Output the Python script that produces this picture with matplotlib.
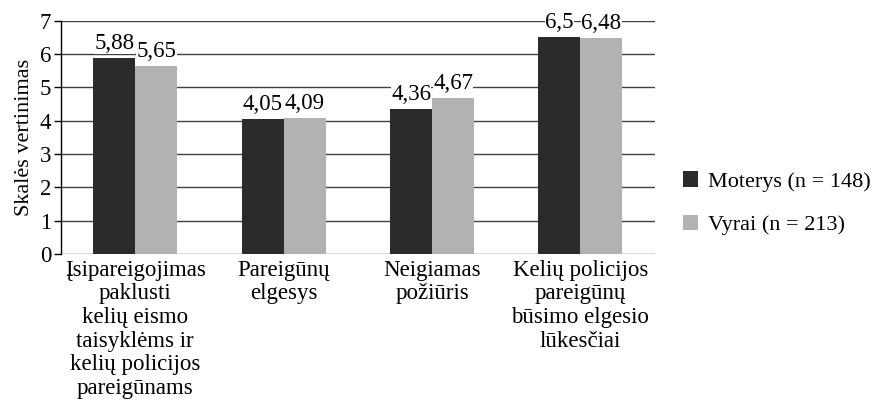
import numpy as np
import matplotlib
matplotlib.use("Agg")
import matplotlib.pyplot as plt

plt.rcParams['font.family'] = ['Liberation Serif', 'DejaVu Serif']

categories = [
    "Įsipareigojimas\npaklusti\nkelių eismo\ntaisyklėms ir\nkelių policijos\npareigūnams",
    "Pareigūnų\nelgesys",
    "Neigiamas\npožiūris",
    "Kelių policijos\npareigūnų\nbūsimo elgesio\nlūkesčiai",
]
moterys = [5.88, 4.05, 4.36, 6.5]
vyrai = [5.65, 4.09, 4.67, 6.48]
moterys_lbl = ["5,88", "4,05", "4,36", "6,5"]
vyrai_lbl = ["5,65", "4,09", "4,67", "6,48"]

fig = plt.figure(figsize=(8.74, 4.04), dpi=100)
ax = fig.add_axes([0.0698, 0.3713, 0.6792, 0.5775])

ind = np.arange(len(categories))
width = 0.283

b1 = ax.bar(ind - width / 2, moterys, width, color='#2b2b2b', label='Moterys (n = 148)', zorder=3)
b2 = ax.bar(ind + width / 2, vyrai, width, color='#b2b2b2', label='Vyrai (n = 213)', zorder=3)

for bars, labels in [(b1, moterys_lbl), (b2, vyrai_lbl)]:
    for rect, lab in zip(bars, labels):
        ax.annotate(lab, (rect.get_x() + rect.get_width() / 2, rect.get_height()),
                    xytext=(0, 3), textcoords='offset points', ha='center', va='bottom',
                    fontsize=16.5, zorder=4,
                    bbox=dict(boxstyle='square,pad=0.02', fc='white', ec='none'))

ax.set_xlim(-0.5, 3.5)
ax.set_ylim(0, 7)
ax.set_yticks(range(8))
ax.set_xticks(ind)
ax.set_xticklabels(categories, fontsize=16.5, linespacing=1.17)
ax.tick_params(axis='x', length=0, pad=4)
ax.tick_params(axis='y', labelsize=16.5, length=5, width=1, pad=2)
ax.yaxis.grid(True, color='#404040', linewidth=1, zorder=0)
ax.set_axisbelow(True)
for s in ['top', 'right', 'bottom']:
    ax.spines[s].set_visible(False)
ax.spines['left'].set_linewidth(1)
ax.set_ylabel('Skalės vertinimas', fontsize=16, labelpad=4)

fig.legend(handles=[b1, b2], loc='center left', bbox_to_anchor=(0.781, 0.497),
           frameon=False, fontsize=16, handlelength=0.7, handleheight=0.7,
           handletextpad=0.45, labelspacing=1.05, borderpad=0, borderaxespad=0)

fig.savefig('out.png', dpi=100)
